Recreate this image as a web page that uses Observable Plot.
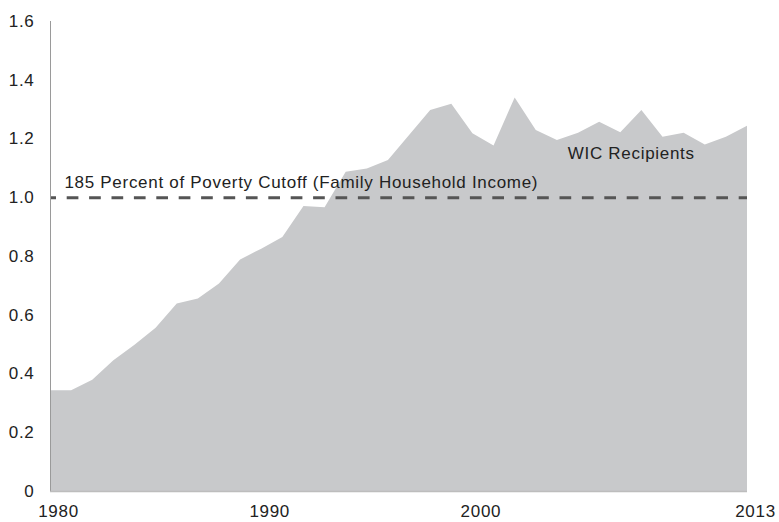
<!DOCTYPE html>
<html>
<head>
<meta charset="utf-8">
<script src="https://cdn.jsdelivr.net/npm/d3@7"></script>
<script src="https://cdn.jsdelivr.net/npm/@observablehq/plot@0.6"></script>
<style>
  html, body { margin: 0; padding: 0; background: #fff; }
  #chart svg { display: block; }
  #chart svg text { letter-spacing: 0.7px; }
</style>
</head>
<body>
<div id="chart"></div>
<script>
const years = [1980,1981,1982,1983,1984,1985,1986,1987,1988,1989,1990,1991,1992,1993,1994,1995,1996,1997,1998,1999,2000,2001,2002,2003,2004,2005,2006,2007,2008,2009,2010,2011,2012,2013];
const wicRecipients = [0.343,0.343,0.379,0.445,0.498,0.556,0.638,0.655,0.706,0.788,0.825,0.865,0.970,0.966,1.087,1.098,1.127,1.212,1.297,1.318,1.218,1.176,1.340,1.229,1.195,1.220,1.257,1.221,1.297,1.206,1.220,1.180,1.206,1.243];
const povertyCutoff = 1.0;
const yTicks = [0,0.2,0.4,0.6,0.8,1.0,1.2,1.4,1.6];
const xTicks = [1980,1990,2000,2013];
const cutoffLabel = "185 Percent of Poverty Cutoff (Family Household Income)";
const seriesLabel = "WIC Recipients";

const data = years.map((year, i) => ({year, value: wicRecipients[i]}));

const chart = Plot.plot({
  width: 779,
  height: 522,
  marginLeft: 50,
  marginRight: 32,
  marginTop: 21,
  marginBottom: 31,
  style: {fontFamily: "'Liberation Sans', Arial, Helvetica, sans-serif", fontSize: "17px", color: "#222", background: "#fff"},
  x: {domain: [1980, 2013], label: null},
  y: {domain: [0, 1.6], label: null},
  marks: [
    Plot.areaY(data, {x: "year", y: "value", fill: "#c8c9cb"}),
    Plot.ruleY([povertyCutoff], {stroke: "#555", strokeWidth: 3, strokeDasharray: "11.7,10.7", strokeDashoffset: 5.7}),
    Plot.ruleX([1980], {stroke: "#9a9a9a", strokeWidth: 1}),
    Plot.ruleY([0], {stroke: "#bdbdbd", strokeWidth: 1.5}),
    Plot.axisX({ticks: xTicks, tickFormat: d => String(d), tickSize: 0, tickPadding: 13, dx: 8, fill: "#222"}),
    Plot.axisY({ticks: yTicks, tickFormat: d => d === 0 ? "0" : d.toFixed(1), tickSize: 0, tickPadding: 16, fill: "#222"}),
    Plot.text([cutoffLabel], {x: 1980.66, y: 1.052, text: d => d, textAnchor: "start", fill: "#222", fontSize: 17}),
    Plot.text([seriesLabel], {x: 2004.49, y: 1.151, text: d => d, textAnchor: "start", fill: "#222", fontSize: 17})
  ]
});
document.getElementById("chart").appendChild(chart);
</script>
</body>
</html>
